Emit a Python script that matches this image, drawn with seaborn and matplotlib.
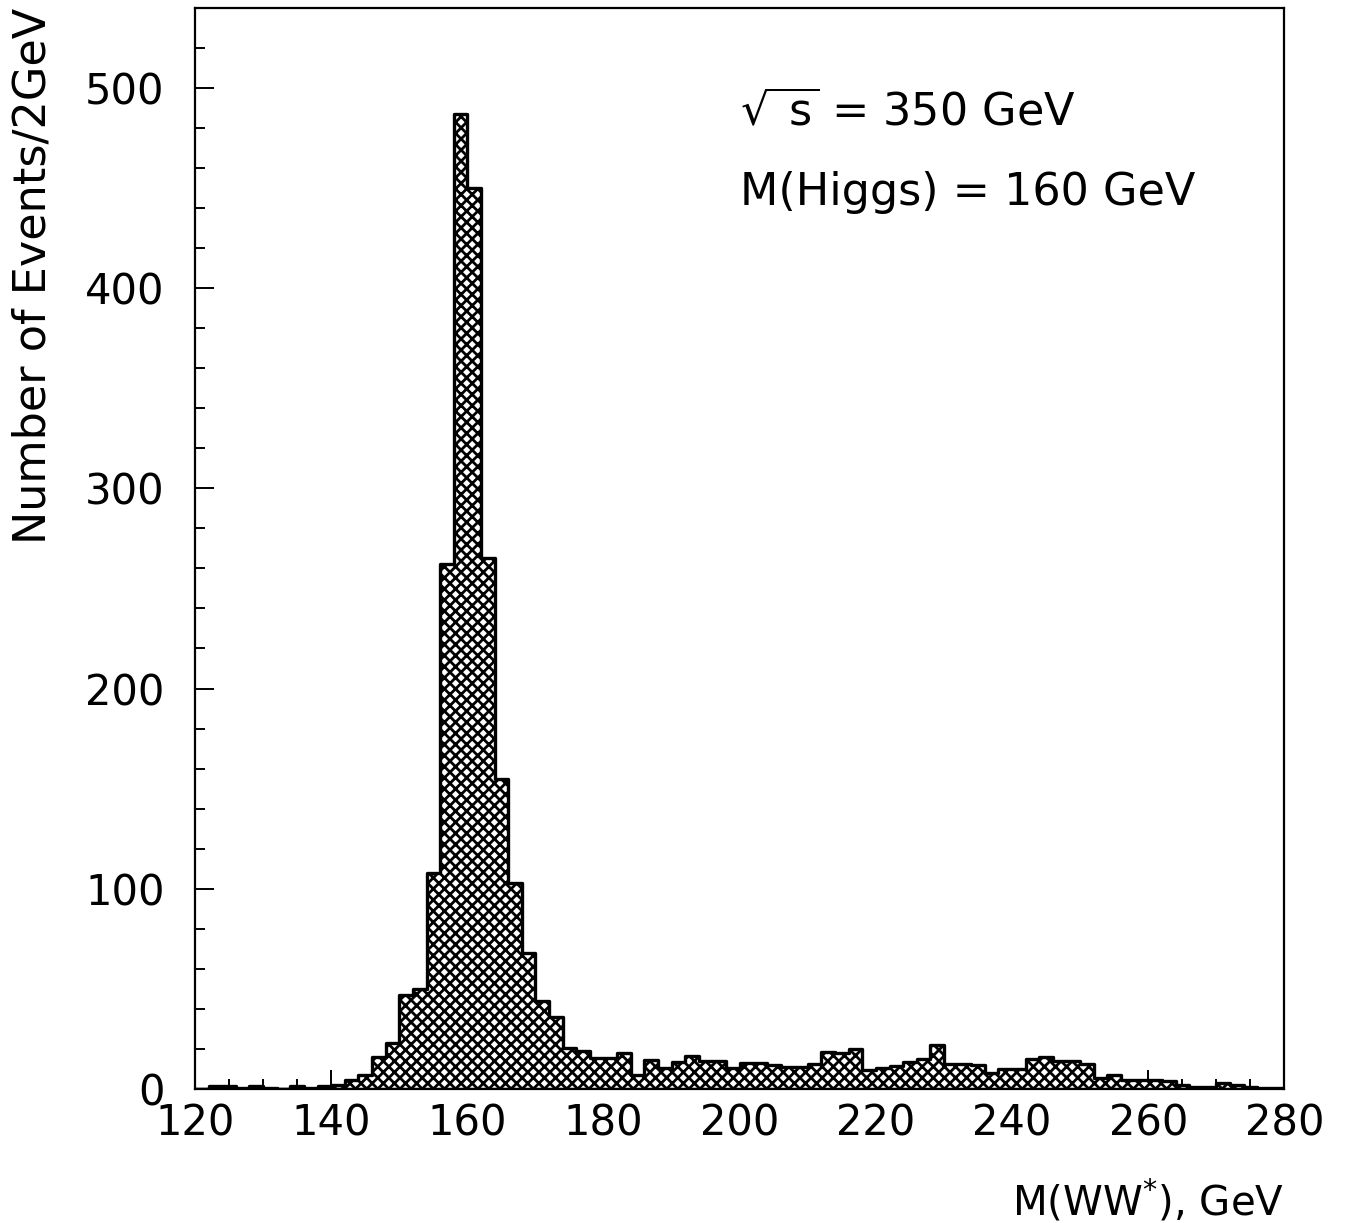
import numpy as np
import pandas as pd
import matplotlib
matplotlib.use("Agg")
import matplotlib.pyplot as plt
import seaborn as sns

# bins of 2 GeV from 120 to 280 GeV
bin_edges = list(range(120, 282, 2))
counts = [0, 1.5, 1.5, 0.5, 1.5, 0.5, 0, 1.5, 0.5, 1.5,          # 120-138
          2, 4.5, 7, 16, 23, 47, 50, 108, 262, 487,               # 140-158
          450, 265, 155, 103, 68, 44, 36, 20.5, 19, 15.5,         # 160-178
          15.5, 18, 7, 14.5, 10.5, 13.5, 16.5, 14, 14, 10.5,      # 180-198
          13, 13, 12, 11, 11, 12.5, 18.5, 18, 20, 9.5,            # 200-218
          10.5, 11.5, 13.5, 15, 22, 12.5, 12.5, 12, 8, 10,        # 220-238
          10, 15, 16, 14, 14, 12.5, 5.5, 7, 4.5, 4.5,             # 240-258
          4.3, 3.8, 2, 1, 1, 3, 2, 1, 0.5, 0.5]                   # 260-278

x_ticks = [120, 140, 160, 180, 200, 220, 240, 260, 280]
y_ticks = [0, 100, 200, 300, 400, 500]
info_lines = [r"$\sqrt{\mathregular{\ s}}$ = 350 GeV", "M(Higgs) = 160 GeV"]

df = pd.DataFrame({"mass": [e + 1 for e in bin_edges[:-1]], "events": counts})

sns.set_style("ticks")
plt.rcParams["font.family"] = ["DejaVu Sans"]
plt.rcParams["hatch.linewidth"] = 2.0
plt.rcParams["hatch.color"] = "black"
plt.rcParams["text.color"] = "black"
plt.rcParams["axes.labelcolor"] = "black"
plt.rcParams["xtick.color"] = "black"
plt.rcParams["ytick.color"] = "black"
plt.rcParams["axes.edgecolor"] = "black"

fig = plt.figure(figsize=(13.45, 12.23), dpi=100)
ax = fig.add_axes([0.145, 0.1096, 0.81, 0.884])

sns.histplot(data=df, x="mass", weights="events", bins=bin_edges,
             element="step", fill=True, color="white", edgecolor="black",
             linewidth=2.4, alpha=1, hatch="xxx", ax=ax)

ax.set_xlim(120, 280)
ax.set_ylim(0, 540)
ax.set_xticks(x_ticks)
ax.set_yticks(y_ticks)
ax.set_xticks(np.arange(120, 281, 5), minor=True)
ax.set_yticks(np.arange(0, 541, 20), minor=True)
ax.tick_params(which="both", direction="in", top=False, right=False,
               labelsize=30, width=1.4)
ax.tick_params(axis="y", which="major", length=14, pad=22)
ax.tick_params(axis="x", which="major", length=14, pad=10)
ax.tick_params(which="minor", length=7)
for s in ax.spines.values():
    s.set_linewidth(1.6)

ax.set_xlabel("M(WW$^{*}$), GeV", fontsize=29, loc="right", labelpad=24)
ax.set_ylabel("Number of Events/2GeV", fontsize=32, loc="top", labelpad=22)

ax.text(0.5, 0.903, info_lines[0], transform=ax.transAxes, fontsize=32,
        ha="left", va="center")
ax.text(0.5, 0.829, info_lines[1], transform=ax.transAxes, fontsize=32,
        ha="left", va="center")

plt.savefig("out.png", dpi=100)
